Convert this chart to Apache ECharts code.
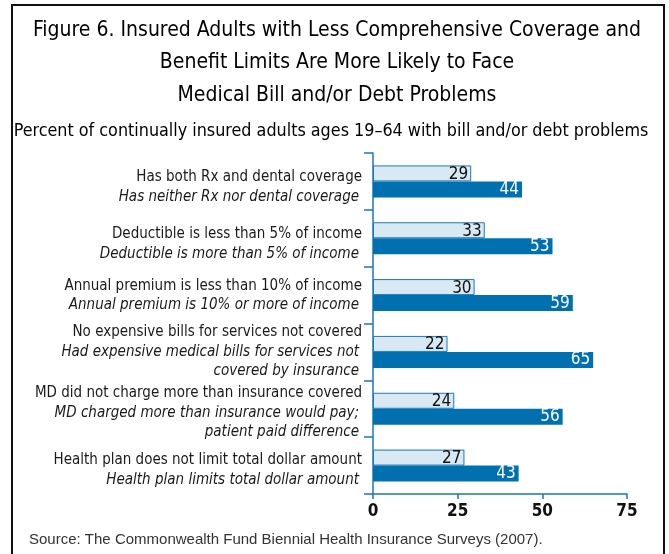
<!DOCTYPE html>
<html>
<head>
<meta charset="utf-8">
<script src="https://cdn.jsdelivr.net/npm/echarts@6/dist/echarts.min.js"></script>
<style>html,body{margin:0;padding:0;background:#fff;}#c{width:669px;height:554px;}</style>
</head>
<body>
<div id="c"></div>
<script>
var groupLabels = [
  ['Has both Rx and dental coverage', 'Has neither Rx nor dental coverage'],
  ['Deductible is less than 5% of income', 'Deductible is more than 5% of income'],
  ['Annual premium is less than 10% of income', 'Annual premium is 10% or more of income'],
  ['No expensive bills for services not covered', 'Had expensive medical bills for services not', 'covered by insurance'],
  ['MD did not charge more than insurance covered', 'MD charged more than insurance would pay;', 'patient paid difference'],
  ['Health plan does not limit total dollar amount', 'Health plan limits total dollar amount']
];
var categories = groupLabels.map(function (g) { return g[0]; });
var betterValues = [29, 33, 30, 22, 24, 27];
var worseValues = [44, 53, 59, 65, 56, 43];
var xTicks = [0, 25, 50, 75];

var FONT = '"Liberation Sans Narrow", "DejaVu Sans Condensed", sans-serif';
var labelPad = [11, 12, 1, 0, 8, 9];

var categoryItems = categories.map(function (c, i) {
  return { value: c, textStyle: { padding: [labelPad[i], 0, 0, 0] } };
});

var chart = echarts.init(document.getElementById('c'));
chart.setOption({
  animation: false,
  backgroundColor: '#fff',
  title: [{
    text: 'Figure 6. Insured Adults with Less Comprehensive Coverage and\nBenefit Limits Are More Likely to Face\nMedical Bill and/or Debt Problems',
    left: 337, top: 14, textAlign: 'center', padding: 0,
    textStyle: { fontFamily: FONT, fontSize: 21, fontWeight: 'normal', color: '#000', lineHeight: 32.5, align: 'center' }
  }, {
    text: 'Percent of continually insured adults ages 19\u201364 with bill and/or debt problems',
    left: 331, top: 122, textAlign: 'center', padding: 0,
    textStyle: { fontFamily: FONT, fontSize: 17.8, fontWeight: 'normal', color: '#000' }
  }, {
    text: 'Source: The Commonwealth Fund Biennial Health Insurance Surveys (2007).',
    left: 29, top: 532, padding: 0,
    textStyle: { fontFamily: '"Liberation Sans", Arial, sans-serif', fontSize: 15, fontWeight: 'normal', color: '#333' }
  }],
  graphic: [{
    type: 'rect', shape: { x: 12, y: 5, width: 652, height: 560 },
    style: { fill: 'none', stroke: '#111', lineWidth: 2 }, silent: true
  }],
  grid: { left: 373, right: 42, top: 153, bottom: 60, containLabel: false },
  xAxis: {
    type: 'value', min: 0, max: 75, interval: 25,
    axisLine: { show: true, lineStyle: { color: '#1a78b8', width: 1.5 } },
    axisTick: { show: true, length: 5, lineStyle: { color: '#1a78b8', width: 1.5 } },
    splitLine: { show: false },
    axisLabel: {
      fontFamily: FONT, fontSize: 17, fontWeight: 'bold', color: '#111', margin: 9,
      formatter: function (v) { return xTicks.indexOf(v) >= 0 ? String(v) : ''; }
    }
  },
  yAxis: {
    type: 'category', data: categoryItems, inverse: true,
    axisLine: { show: true, lineStyle: { color: '#1a78b8', width: 1.5 } },
    axisTick: { show: true, length: 9, lineStyle: { color: '#1a78b8', width: 1.5 } },
    axisLabel: {
      margin: 11, align: 'right',
      formatter: function (v, i) {
        var g = groupLabels[i];
        var s = '{a|' + g[0] + '}';
        for (var k = 1; k < g.length; k++) s += '\n{b|' + g[k] + '}';
        return s;
      },
      rich: {
        a: { fontFamily: FONT, fontSize: 15, color: '#1a1a1a', lineHeight: 19.5, align: 'right' },
        b: { fontFamily: FONT, fontSize: 15, fontStyle: 'italic', color: '#1a1a1a', lineHeight: 19.5, align: 'right', padding: [0, 3, 0, 0] }
      }
    }
  },
  series: [{
    type: 'bar', data: betterValues, barWidth: 16, barGap: '0%',
    itemStyle: { color: '#d9e9f3', borderColor: '#1a78b8', borderWidth: 1 },
    label: { show: true, position: 'insideRight', distance: 3, fontFamily: FONT, fontSize: 17, color: '#111', offset: [0, 1] }
  }, {
    type: 'bar', data: worseValues, barWidth: 16, barGap: '0%',
    itemStyle: { color: '#0070b0' },
    label: { show: true, position: 'insideRight', distance: 3, fontFamily: FONT, fontSize: 17, color: '#fff' }
  }]
});
</script>
</body>
</html>
